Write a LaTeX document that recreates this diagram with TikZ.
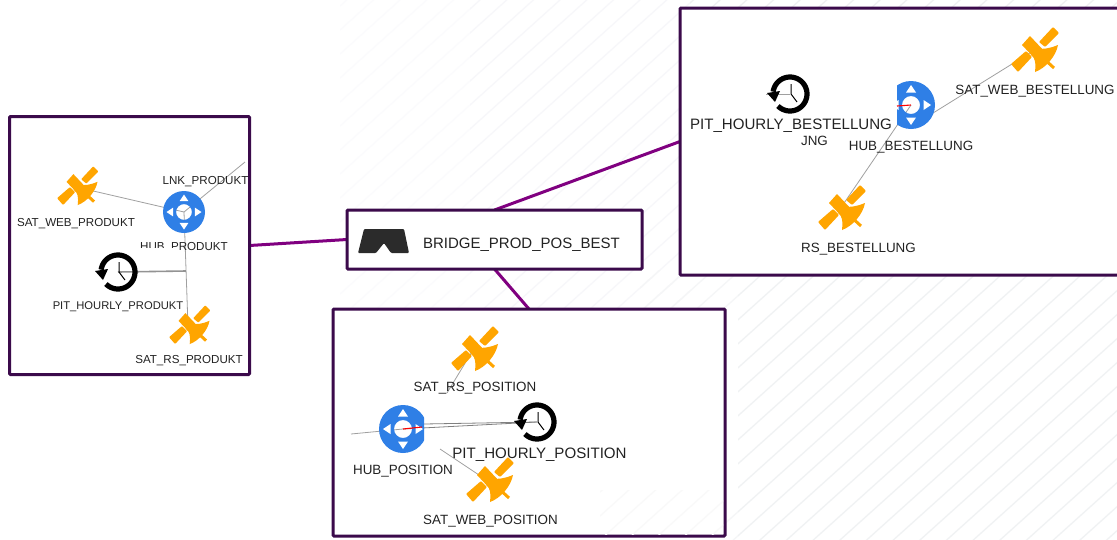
\documentclass[tikz,border=0pt]{standalone}
\usepackage{fontspec}
\setmainfont{Liberation Sans}
\usetikzlibrary{backgrounds}
\definecolor{boxline}{HTML}{3B0A4B}
\definecolor{bridgeline}{HTML}{800080}
\definecolor{satorange}{HTML}{FFA500}
\definecolor{hubblue}{HTML}{2F7FE6}
\definecolor{linkgray}{HTML}{A0A0A0}
\definecolor{labeltext}{HTML}{222222}
\definecolor{hatchA}{HTML}{FBFBFD}
\definecolor{hatchB}{HTML}{F7F7FA}
\definecolor{hatchC}{HTML}{F0F0F2}
\definecolor{hatchD}{HTML}{F5F6F7}
\definecolor{hatchE}{HTML}{F0F2F3}
\definecolor{hatchF}{HTML}{F9F9F9}
\newcommand{\hatchzone}[5]{%
  \begin{scope}
    \clip (#2,#3) rectangle (#4,#5);
    \foreach \c in {0,24,...,2000} {
      \draw[color=#1,line width=1.3pt] (0,\c) -- (1200,\c-1080);
    }
  \end{scope}}
\tikzset{
  frame/.style={draw=boxline,line width=3pt,fill=white,rounded corners=1pt,inner sep=0pt,outer sep=0pt},
  purplelink/.style={draw=bridgeline,line width=3pt},
  graylink/.style={draw=linkgray,line width=0.8pt},
  heavylink/.style={draw=gray!85,line width=1.6pt},
  redlink/.style={draw=red,line width=1.1pt},
  lab/.style={font=\fontsize{#1}{#1}\selectfont,text=labeltext,inner sep=0pt,anchor=base},
  pics/satellite/.style={code={
    \fill[satorange,rounded corners=0.8pt] (6,-9) -- (20,-24) -- (26,-18) -- (12,-4) -- cycle;
    \fill[satorange,rounded corners=0.8pt] (-22,13) -- (-7,0) -- (-1,6) -- (-15,21) -- cycle;
    \fill[satorange] (-11,-6) -- (-3,-15) -- (13,2) -- (4,10) -- cycle;
    \fill[satorange] (2,-3) .. controls (10,-1) and (18,-3) .. (25,-6)
       .. controls (23,5) and (13,17) .. (2,21) .. controls (3,12) and (2,6) .. (-2,4) -- cycle;
    \draw[satorange,line width=3pt] (9,6) -- (21,17);
  }},
  pics/hubicon/.style={code={
    \fill[hubblue,even odd rule] (0,0) circle[radius=24] (0,0) circle[radius=9];
    \foreach \a in {0,90,180,270} {
      \fill[white,rotate=\a] (-5,-12.5) -- (5,-12.5) -- (0,-20) -- cycle;
    }
  }},
  pics/clockicon/.style={code={
    \draw[black,line width=5.2pt] plot[domain=-172:135,samples=50,smooth] ({17*cos(\x)},{17*sin(\x)});
    \fill[black] (-23,-1) -- (-10,-3) -- (-15,8) -- cycle;
    \draw[black,line width=1pt] (1,-10) -- (1,0) -- (7,8);
  }},
  pics/bridgeicon/.style={code={
    \fill[black!83,rounded corners=1pt] (-25,12) -- (-19,-12) -- (21,-12) -- (26,12) -- (8,12) -- (1,2) -- (-7,12) -- cycle;
  }}
}
\begin{document}
\begin{tikzpicture}[x=1pt,y=-1pt]
\useasboundingbox (0,0) rectangle (1117,539);
\clip (0,0) rectangle (1117,539);
% frames
\node[frame,minimum width=240pt,minimum height=258pt] (boxprod) at (129.5,245.5) {};
\node[frame,minimum width=295pt,minimum height=59pt] (boxbridge) at (494.5,239.5) {};
\node[frame,minimum width=392pt,minimum height=227pt] (boxpos) at (529,422.5) {};
\node[frame,minimum width=450pt,minimum height=267pt] (boxbest) at (905,141.5) {};
\begin{scope}[on background layer]
  \fill[white] (0,0) rectangle (1117,539);
  \hatchzone{hatchA}{340}{0}{470}{310}
  \hatchzone{hatchB}{470}{0}{690}{310}
  \hatchzone{hatchC}{690}{0}{1117}{8}
  \hatchzone{hatchD}{640}{270}{738}{310}
  \hatchzone{hatchE}{738}{275}{1117}{539}
  \hatchzone{hatchD}{725}{500}{738}{539}
  \draw[purplelink] (boxprod.east) -- (boxbridge.west);
  \draw[purplelink] (boxbridge.north) -- (boxbest.west);
  \draw[purplelink] (boxbridge.south) -- (boxpos.north);
\end{scope}
\hatchzone{hatchF}{600}{490}{723}{534}
% anchors of the icons
\coordinate (hubprod) at (184,212);
\coordinate (satwebprod) at (76,187);
\coordinate (satrsprod) at (188,326);
\coordinate (pitprod) at (118,272);
\coordinate (lnkfree) at (245,162);
\coordinate (pitprodend) at (186,271);
\coordinate (hubbest) at (911,105);
\coordinate (hubbestlow) at (925,118);
\coordinate (satwebbest) at (1033,51);
\coordinate (satrsbest) at (840,209);
\coordinate (pitbest) at (790,94);
\coordinate (pitbestfree) at (766,94);
\coordinate (redbestend) at (897,106);
\coordinate (hubpos) at (403,429);
\coordinate (satrspos) at (473,350);
\coordinate (satwebpos) at (488,481);
\coordinate (pitpos) at (537,422);
\coordinate (posfree) at (351,434);
\coordinate (posupper) at (424,424);
\coordinate (posrsend) at (447,393);
\coordinate (poswebend) at (440,449);
\coordinate (posredend) at (422,427);
% grey connectors
\draw[graylink] (hubprod) -- (satwebprod);
\draw[graylink] (hubprod) -- (satrsprod);
\draw[graylink] (hubprod) -- (lnkfree);
\draw[heavylink] (pitprod) -- (pitprodend);
\draw[graylink] (hubbestlow) -- (satwebbest);
\draw[graylink] (hubbest) -- (satrsbest);
\draw[graylink] (pitbest) -- (pitbestfree);
\draw[graylink] (posfree) -- (hubpos);
\draw[graylink,draw=gray] (hubpos) -- (pitpos);
\draw[graylink,draw=gray] (posupper) -- (pitpos);
\draw[graylink] (posrsend) -- (satrspos);
\draw[graylink] (poswebend) -- (satwebpos);
% icons
\pic[scale=0.875] at (hubprod) {hubicon};
\pic[scale=0.86] at (satwebprod) {satellite};
\pic[scale=0.86] at (satrsprod) {satellite};
\pic at (pitprod) {clockicon};
\begin{scope}
  \clip (897,70) rectangle (945,140);
  \pic at (hubbest) {hubicon};
\end{scope}
\draw[redlink] (redbestend) -- (hubbest);
\pic at (satwebbest) {satellite};
\pic at (satrsbest) {satellite};
\pic at (pitbest) {clockicon};
\begin{scope}
  \clip (370,400) rectangle (424,460);
  \pic at (hubpos) {hubicon};
\end{scope}
\draw[redlink] (hubpos) -- (posredend);
\begin{scope}
  \clip (440,325) rectangle (510,380);
  \pic at (satrspos) {satellite};
\end{scope}
\pic at (satwebpos) {satellite};
\pic at (pitpos) {clockicon};
\pic at (383,241) {bridgeicon};
% labels
\node[lab=11.6] (t1) at (76,226) {SAT\_WEB\_PRODUKT};
\node[lab=11.6] (t2) at (205.5,184.5) {LNK\_PRODUKT};
\node[lab=11.6] (t3) at (184,250.7) {HUB\_PRODUKT};
\fill[white] (136,247.6) rectangle (176.3,256);
\node[lab=11.2] (t4) at (118,309.5) {PIT\_HOURLY\_PRODUKT};
\node[lab=11.6] (t5) at (189,363.5) {SAT\_RS\_PRODUKT};
\node[lab=15] (t6) at (521.5,248) {BRIDGE\_PROD\_POS\_BEST};
\node[lab=15.1] (t7) at (791,129.5) {PIT\_HOURLY\_BESTELLUNG};
\node[lab=13.4] (t8) at (814.5,145) {JNG};
\node[lab=13.4] (t9) at (911,150) {HUB\_BESTELLUNG};
\node[lab=13.4] (t10) at (1035,94.5) {SAT\_WEB\_BESTELLUNG};
\node[lab=13.4] (t11) at (858.5,252) {RS\_BESTELLUNG};
\node[lab=13.4] (t12) at (475,391) {SAT\_RS\_POSITION};
\node[lab=15.1] (t13) at (539.5,458) {PIT\_HOURLY\_POSITION};
\node[lab=13.4] (t14) at (403,474.5) {HUB\_POSITION};
\node[lab=13.4] (t15) at (490.5,524) {SAT\_WEB\_POSITION};
\end{tikzpicture}
\end{document}
